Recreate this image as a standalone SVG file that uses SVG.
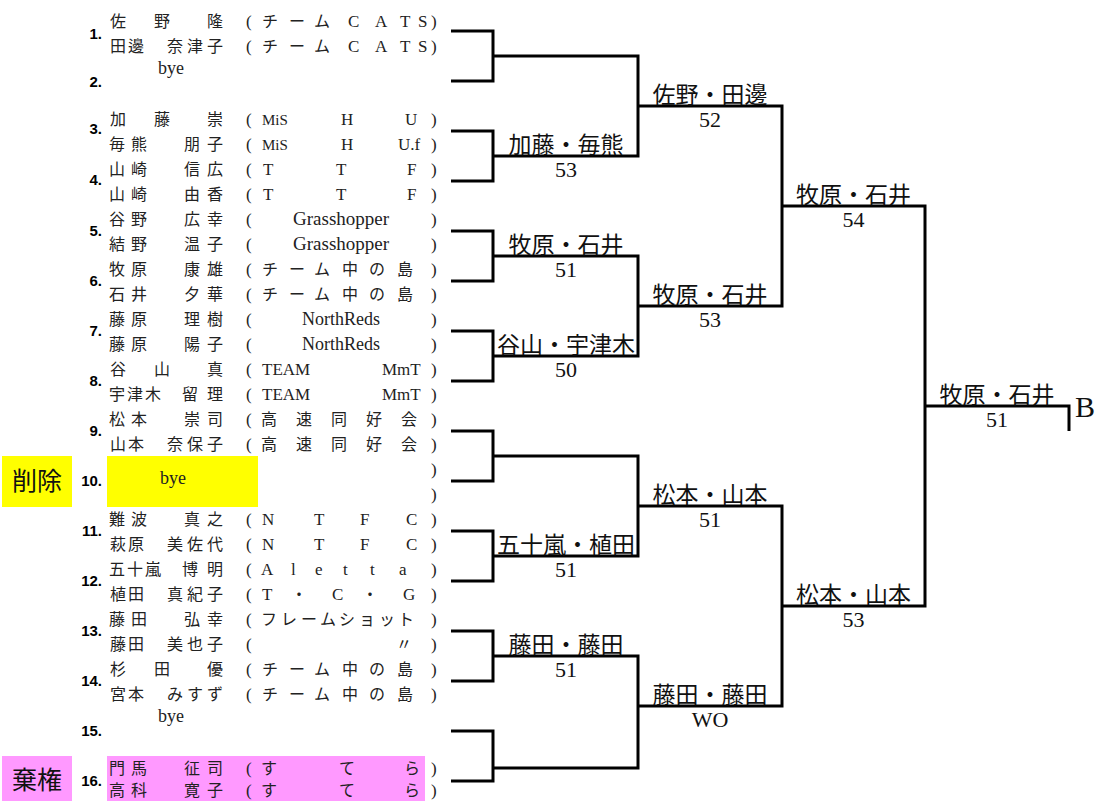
<svg xmlns="http://www.w3.org/2000/svg" width="1098" height="801" viewBox="0 0 1098 801">
<style>
.c{fill:none;stroke:#000;stroke-width:3;stroke-linejoin:miter}
.j{font-family:"Liberation Serif","Noto Sans CJK JP",serif;font-size:16px;fill:#222}
.l{font-family:"Liberation Serif",serif;font-size:17px;fill:#222}
.num{font-family:"Liberation Sans",Arial,sans-serif;font-weight:bold;font-size:15px;text-anchor:end;fill:#000}
.w{font-family:"Liberation Serif","Noto Sans CJK JP",serif;font-size:23px;text-anchor:middle;fill:#111}
.s{font-family:"Liberation Serif",serif;font-size:22px;text-anchor:middle;fill:#111}
.tag{font-family:"Noto Sans CJK JP",sans-serif;font-size:25px;text-anchor:middle;fill:#111}
</style>
<rect x="0" y="0" width="1098" height="801" fill="#fff"/>

<g id="tag-delete">
<rect x="2" y="456" width="70" height="51" fill="#ffff00"/>
<text class="tag" x="37" y="490">削除</text>
</g>
<g id="tag-forfeit">
<rect x="2" y="756" width="70" height="45" fill="#ff99ff"/>
<text class="tag" x="37" y="789">棄権</text>
</g>

<g id="e1">
<text class="num" x="102" y="39">1.</text>
<text y="27"><tspan class="j" x="110 154 207">佐野隆</tspan><tspan class="l" x="246">(</tspan><tspan class="j" x="262 289 314">チーム</tspan><tspan class="l" x="348 375 400 418">CATS</tspan><tspan class="l" x="431">)</tspan></text>
<text y="52"><tspan class="j" x="110 128 167 187 207">田邊奈津子</tspan><tspan class="l" x="246">(</tspan><tspan class="j" x="262 289 314">チーム</tspan><tspan class="l" x="348 375 400 418">CATS</tspan><tspan class="l" x="431">)</tspan></text>
</g>
<g id="e2">
<text class="num" x="102" y="87">2.</text>
<text class="l" x="158" y="74" style="font-size:18px">bye</text>
</g>
<g id="e3">
<text class="num" x="102" y="134">3.</text>
<text y="125"><tspan class="j" x="110 154 207">加藤崇</tspan><tspan class="l" x="246">(</tspan><tspan class="l" x="262" style="font-size:15px">MiS</tspan><tspan class="l" x="341">H</tspan><tspan class="l" x="405">U</tspan><tspan class="l" x="431">)</tspan></text>
<text y="150"><tspan class="j" x="109 131 184 207">毎熊朋子</tspan><tspan class="l" x="246">(</tspan><tspan class="l" x="262" style="font-size:15px">MiS</tspan><tspan class="l" x="341">H</tspan><tspan class="l" x="398">U.f</tspan><tspan class="l" x="431">)</tspan></text>
</g>
<g id="e4">
<text class="num" x="102" y="185">4.</text>
<text y="175"><tspan class="j" x="109 131 184 207">山崎信広</tspan><tspan class="l" x="246">(</tspan><tspan class="l" x="263 336 407">TTF</tspan><tspan class="l" x="431">)</tspan></text>
<text y="200"><tspan class="j" x="109 131 184 207">山崎由香</tspan><tspan class="l" x="246">(</tspan><tspan class="l" x="263 336 407">TTF</tspan><tspan class="l" x="431">)</tspan></text>
</g>
<g id="e5">
<text class="num" x="102" y="236">5.</text>
<text y="225"><tspan class="j" x="109 131 184 207">谷野広幸</tspan><tspan class="l" x="246">(</tspan><tspan class="l" x="293" style="font-size:19px">Grasshopper</tspan><tspan class="l" x="431">)</tspan></text>
<text y="250"><tspan class="j" x="109 131 184 207">結野温子</tspan><tspan class="l" x="246">(</tspan><tspan class="l" x="293" style="font-size:19px">Grasshopper</tspan><tspan class="l" x="431">)</tspan></text>
</g>
<g id="e6">
<text class="num" x="102" y="286">6.</text>
<text y="275"><tspan class="j" x="109 131 184 207">牧原康雄</tspan><tspan class="l" x="246">(</tspan><tspan class="j" x="262 289 314 342 369 397">チーム中の島</tspan><tspan class="l" x="431">)</tspan></text>
<text y="300"><tspan class="j" x="109 131 184 207">石井夕華</tspan><tspan class="l" x="246">(</tspan><tspan class="j" x="262 289 314 342 369 397">チーム中の島</tspan><tspan class="l" x="431">)</tspan></text>
</g>
<g id="e7">
<text class="num" x="102" y="336">7.</text>
<text y="325"><tspan class="j" x="109 131 184 207">藤原理樹</tspan><tspan class="l" x="246">(</tspan><tspan class="l" x="302" style="font-size:18px">NorthReds</tspan><tspan class="l" x="431">)</tspan></text>
<text y="350"><tspan class="j" x="109 131 184 207">藤原陽子</tspan><tspan class="l" x="246">(</tspan><tspan class="l" x="302" style="font-size:18px">NorthReds</tspan><tspan class="l" x="431">)</tspan></text>
</g>
<g id="e8">
<text class="num" x="102" y="386">8.</text>
<text y="375"><tspan class="j" x="110 154 207">谷山真</tspan><tspan class="l" x="246">(</tspan><tspan class="l" x="262">TEAM</tspan><tspan class="l" x="382">MmT</tspan><tspan class="l" x="431">)</tspan></text>
<text y="400"><tspan class="j" x="109 127 145 182 207">宇津木留理</tspan><tspan class="l" x="246">(</tspan><tspan class="l" x="262">TEAM</tspan><tspan class="l" x="382">MmT</tspan><tspan class="l" x="431">)</tspan></text>
</g>
<g id="e9">
<text class="num" x="102" y="436">9.</text>
<text y="425"><tspan class="j" x="109 131 184 207">松本崇司</tspan><tspan class="l" x="246">(</tspan><tspan class="j" x="261 296 331 366 401">高速同好会</tspan><tspan class="l" x="431">)</tspan></text>
<text y="450"><tspan class="j" x="110 128 167 187 207">山本奈保子</tspan><tspan class="l" x="246">(</tspan><tspan class="j" x="261 296 331 366 401">高速同好会</tspan><tspan class="l" x="431">)</tspan></text>
</g>
<g id="e10">
<rect x="107" y="456" width="151" height="51" fill="#ffff00"/>
<text class="num" x="102" y="486">10.</text>
<text class="l" x="160" y="484" style="font-size:18px">bye</text>
<text class="l" x="431" y="475">)</text>
<text class="l" x="431" y="500">)</text>
</g>
<g id="e11">
<text class="num" x="102" y="536">11.</text>
<text y="525"><tspan class="j" x="109 131 184 207">難波真之</tspan><tspan class="l" x="246">(</tspan><tspan class="l" x="262 314 360 406">NTFC</tspan><tspan class="l" x="431">)</tspan></text>
<text y="550"><tspan class="j" x="110 128 167 187 207">萩原美佐代</tspan><tspan class="l" x="246">(</tspan><tspan class="l" x="262 314 360 406">NTFC</tspan><tspan class="l" x="431">)</tspan></text>
</g>
<g id="e12">
<text class="num" x="102" y="586">12.</text>
<text y="575"><tspan class="j" x="109 127 145 182 207">五十嵐博明</tspan><tspan class="l" x="246">(</tspan><tspan class="l" x="261 291 315 343 370 399">Aletta</tspan><tspan class="l" x="431">)</tspan></text>
<text y="600"><tspan class="j" x="110 128 167 187 207">植田真紀子</tspan><tspan class="l" x="246">(</tspan><tspan class="l" x="262">T</tspan><tspan class="j" x="291">・</tspan><tspan class="l" x="332">C</tspan><tspan class="j" x="362">・</tspan><tspan class="l" x="403">G</tspan><tspan class="l" x="431">)</tspan></text>
</g>
<g id="e13">
<text class="num" x="102" y="636">13.</text>
<text y="625"><tspan class="j" x="109 131 184 207">藤田弘幸</tspan><tspan class="l" x="246">(</tspan><tspan class="j" x="261 281 301 320 339 359 379 398">フレームショット</tspan><tspan class="l" x="431">)</tspan></text>
<text y="650"><tspan class="j" x="110 128 167 187 207">藤田美也子</tspan><tspan class="l" x="246">(</tspan><tspan class="j" x="396">〃</tspan><tspan class="l" x="431">)</tspan></text>
</g>
<g id="e14">
<text class="num" x="102" y="686">14.</text>
<text y="675"><tspan class="j" x="110 154 207">杉田優</tspan><tspan class="l" x="246">(</tspan><tspan class="j" x="262 289 314 342 369 397">チーム中の島</tspan><tspan class="l" x="431">)</tspan></text>
<text y="700"><tspan class="j" x="110 128 167 187 207">宮本みすず</tspan><tspan class="l" x="246">(</tspan><tspan class="j" x="262 289 314 342 369 397">チーム中の島</tspan><tspan class="l" x="431">)</tspan></text>
</g>
<g id="e15">
<text class="num" x="102" y="736">15.</text>
<text class="l" x="158" y="722" style="font-size:18px">bye</text>
</g>
<g id="e16">
<rect x="107" y="756" width="318" height="45" fill="#ff99ff"/>
<text class="num" x="102" y="786">16.</text>
<text y="774"><tspan class="j" x="109 131 184 207">門馬征司</tspan><tspan class="l" x="246">(</tspan><tspan class="j" x="261 339 404">すてら</tspan><tspan class="l" x="431">)</tspan></text>
<text y="796"><tspan class="j" x="109 131 184 207">高科寛子</tspan><tspan class="l" x="246">(</tspan><tspan class="j" x="261 339 404">すてら</tspan><tspan class="l" x="431">)</tspan></text>
</g>

<g id="connectors">
<path class="c" d="M451 31H493V81H451"/>
<path class="c" d="M451 131H493V181H451"/>
<path class="c" d="M451 231H493V281H451"/>
<path class="c" d="M451 331H493V381H451"/>
<path class="c" d="M451 431H493V481H451"/>
<path class="c" d="M451 531H493V581H451"/>
<path class="c" d="M451 631H493V681H451"/>
<path class="c" d="M451 731H493V781H451"/>
<path class="c" d="M493 56H638V156H493"/>
<path class="c" d="M493 256H638V356H493"/>
<path class="c" d="M493 456H638V556H493"/>
<path class="c" d="M493 656H638V768H493"/>
<path class="c" d="M638 106H782V306H638"/>
<path class="c" d="M638 506H782V706H638"/>
<path class="c" d="M782 206H925V606H782"/>
<path class="c" d="M925 406H1069V431"/>
</g>

<g id="r1-2"><text class="w" x="566" y="153">加藤・毎熊</text><text class="s" x="566" y="177">53</text></g>
<g id="r1-3"><text class="w" x="566" y="253">牧原・石井</text><text class="s" x="566" y="277">51</text></g>
<g id="r1-4"><text class="w" x="566" y="353">谷山・宇津木</text><text class="s" x="566" y="377">50</text></g>
<g id="r1-6"><text class="w" x="566" y="553">五十嵐・植田</text><text class="s" x="566" y="577">51</text></g>
<g id="r1-7"><text class="w" x="566" y="653">藤田・藤田</text><text class="s" x="566" y="677">51</text></g>
<g id="r2-1"><text class="w" x="710" y="103">佐野・田邊</text><text class="s" x="710" y="127">52</text></g>
<g id="r2-2"><text class="w" x="710" y="303">牧原・石井</text><text class="s" x="710" y="327">53</text></g>
<g id="r2-3"><text class="w" x="710" y="503">松本・山本</text><text class="s" x="710" y="527">51</text></g>
<g id="r2-4"><text class="w" x="710" y="703">藤田・藤田</text><text class="s" x="710" y="727">WO</text></g>
<g id="r3-1"><text class="w" x="853.5" y="203">牧原・石井</text><text class="s" x="853.5" y="227">54</text></g>
<g id="r3-2"><text class="w" x="853.5" y="603">松本・山本</text><text class="s" x="853.5" y="627">53</text></g>
<g id="final"><text class="w" x="997" y="403">牧原・石井</text><text class="s" x="997" y="427">51</text>
<text x="1075" y="417" style="font-family:'Liberation Serif',serif;font-size:30px;fill:#111">B</text></g>
</svg>
